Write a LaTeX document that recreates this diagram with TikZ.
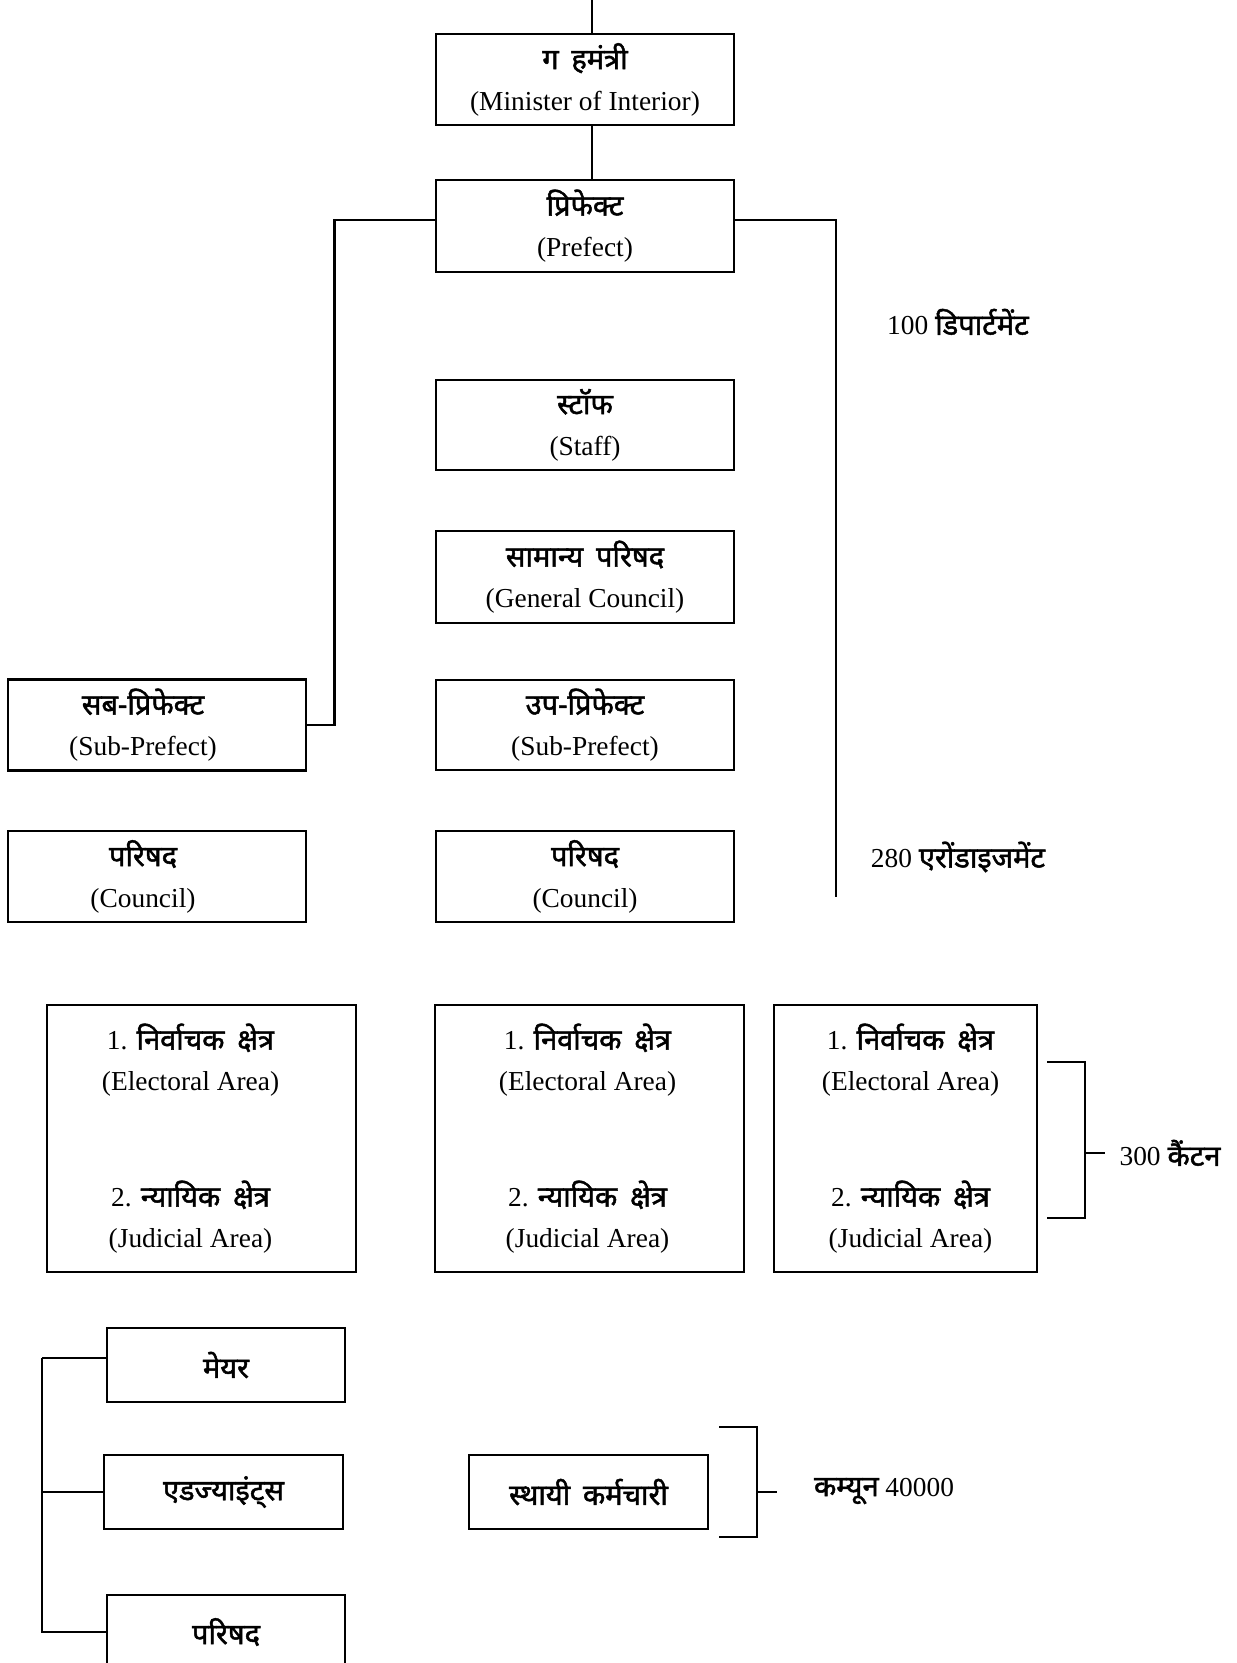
\documentclass[tikz,border=0pt]{standalone}
\usepackage{fontspec}
\setmainfont{Liberation Serif}
\newfontfamily\dev[Script=Devanagari,FakeBold=1.6,WordSpace=1.7]{Noto Sans}
\usetikzlibrary{calc}
\newcommand{\hi}[1]{{\fontsize{14.5}{20.5}\dev #1}}
\newcommand{\areatext}{1. \hi{निर्वाचक क्षेत्र}\\(Electoral Area)\\[37.5pt]2. \hi{न्यायिक क्षेत्र}\\(Judicial Area)}
\begin{document}
\begin{tikzpicture}[x=0.5pt,y=-0.5pt,
  box/.style={draw, line width=1.3pt, align=center, inner sep=0pt, font=\fontsize{13.7}{20.5}\selectfont},
  bx/.style 2 args={box, minimum width={#1*0.5pt}, minimum height={#2*0.5pt}},
  txt/.style={align=center, inner sep=0pt, font=\fontsize{13.7}{20.5}\selectfont},
  lbl/.style={font=\fontsize{13.7}{20.5}\selectfont, inner sep=0pt},
  conn/.style={line width=1.3pt}]
\useasboundingbox (0,0) rectangle (1236,1663);
\clip (0,0) rectangle (1236,1663);

% central column
\node[bx={298}{91}] (minister) at (585,79.5) {\hi{ग हमंत्री}\\(Minister of Interior)};
\node[bx={298}{92}] (prefect) at (585,226) {\hi{प्रिफेक्ट}\\(Prefect)};
\node[bx={298}{90}] (staff) at (585,425) {\hi{स्टॉफ}\\(Staff)};
\node[bx={298}{92}] (gencouncil) at (585,577) {\hi{सामान्य परिषद}\\(General Council)};
\node[bx={298}{90}] (subpref) at (585,725) {\hi{उप-प्रिफेक्ट}\\(Sub-Prefect)};
\node[bx={298}{91}] (council) at (585,876.5) {\hi{परिषद}\\(Council)};

% left column
\node[bx={298}{91}] (leftsub) at (157,725) {};
\node[txt] (leftsubT) at ([xshift=-7pt]leftsub.center) {\hi{सब-प्रिफेक्ट}\\(Sub-Prefect)};
\node[bx={298}{91}] (leftcouncil) at (157,876.5) {};
\node[txt] (leftcouncilT) at ([xshift=-7pt]leftcouncil.center) {\hi{परिषद}\\(Council)};

% labels on right
\node[lbl] (dept) at (958,322) {100 \hi{डिपार्टमेंट}};
\node[lbl] (arr) at (958,857) {280 \hi{एरोंडाइजमेंट}};

% electoral / judicial areas
\node[bx={309}{267}] (ea1) at (201.5,1138.5) {};
\node[txt] (ea1T) at ([xshift=-5.5pt]ea1.center) {\areatext};
\node[bx={309}{267}] (ea2) at (589.5,1138.5) {};
\node[txt] (ea2T) at ([xshift=-1pt]ea2.center) {\areatext};
\node[bx={263}{267}] (ea3) at (905.5,1138.5) {};
\node[txt] (ea3T) at ([xshift=2.5pt]ea3.center) {\areatext};
\node[lbl] (canton) at (1170,1153) {300 \hi{कैंटन}};

% commune level
\node[bx={238}{74}] (mayor) at (226,1365) {\hi{मेयर}};
\node[bx={239}{74}] (adj) at (223.5,1492) {\hi{एडज्याइंट्स}};
\node[bx={238}{74}] (pcouncil) at (226,1632) {\hi{परिषद}};
\node[bx={239}{74}] (perm) at (588.5,1492) {\hi{स्थायी कर्मचारी}};
\node[lbl] (commune) at (884,1491) {\hi{कम्यून} 40000};

% connectors
\coordinate (stem) at (592,0);
\draw[conn] (stem) -- (stem |- minister.north);
\draw[conn] (stem |- minister.south) -- (stem |- prefect.north);
\draw[conn] ([yshift=3pt]prefect.west) -| ([xshift=13.5pt]leftsub.east) -- (leftsub.east);
\coordinate (rend) at (836,897);
\draw[conn] ([yshift=3pt]prefect.east) -| (rend);

% canton bracket
\coordinate (cb1) at (1047,1062);
\coordinate (cb2) at (1047,1218);
\coordinate (cbm) at (1085,1153);
\draw[conn] (cb1) -| (cbm) |- (cb2);
\draw[conn] (cbm) -- ([xshift=-7pt]canton.west);

% commune bracket
\coordinate (kb1) at (719,1427);
\coordinate (kb2) at (719,1537);
\coordinate (kbm) at (757,1492);
\draw[conn] (kb1) -| (kbm) |- (kb2);
\draw[conn] (kbm) -- ([xshift=-18.5pt]commune.west |- kbm);

% bus
\coordinate (bus) at (42,1358);
\draw[conn] (bus) -- ([yshift=3.5pt]mayor.west);
\draw[conn] (bus) |- (pcouncil.west);
\draw[conn] (adj.west) -- (adj.west -| bus);
\end{tikzpicture}
\end{document}
